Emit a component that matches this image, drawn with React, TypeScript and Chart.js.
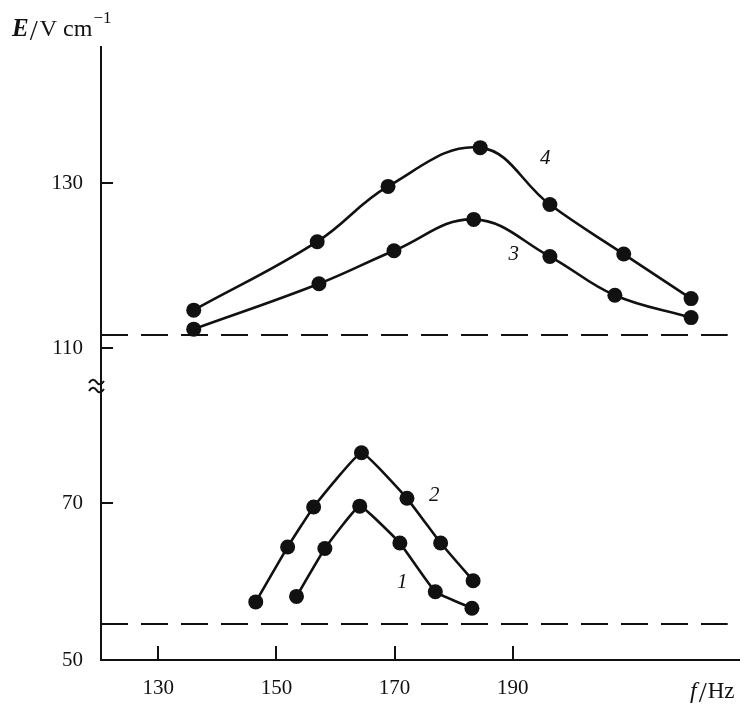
import React, { useEffect, useRef } from "react";
import { Chart, registerables } from "chart.js";

Chart.register(...registerables);

// ---- axis ranges / ticks ----
const X_MIN = 120.3;
const X_MAX = 228.4;
const X_TICKS = [130, 150, 170, 190];
const TOP_MIN = 105.4;
const TOP_MAX = 146.5;
const BOT_MIN = 50;
const BOT_MAX = 84.9;
const TOP_TICKS = [110, 130];
const BOT_TICKS = [50, 70];

// ---- series (f / Hz, E / V cm^-1) ----
const f4 = [136.0, 156.9, 168.9, 184.5, 196.3, 208.8, 220.2];
const e4 = [114.6, 122.9, 129.6, 134.3, 127.4, 121.4, 116.0];
const f3 = [136.0, 157.2, 169.9, 183.4, 196.3, 207.3, 220.2];
const e3 = [112.3, 117.8, 121.8, 125.6, 121.1, 116.4, 113.7];
const f2 = [146.5, 151.9, 156.3, 164.4, 172.1, 177.8, 183.3];
const e2 = [57.4, 64.4, 69.5, 76.4, 70.6, 64.9, 60.1];
const f1 = [153.4, 158.2, 164.1, 170.9, 176.9, 183.1];
const e1 = [58.1, 64.2, 69.6, 64.9, 58.7, 56.6];

// dashed reference levels
const TOP_BASE = 111.6;
const BOT_BASE = 54.6;
const BASE_END = 226.4;

// curve labels: [text, f, E, axis]
const CURVE_LABELS: [string, number, number, string][] = [
  ["4", 195.5, 133.0, "yTop"],
  ["3", 190.2, 121.4, "yTop"],
  ["2", 176.7, 70.9, "yBot"],
  ["1", 171.3, 59.9, "yBot"],
];

const SERIF = "'Liberation Serif', 'Times New Roman', serif";
const INK = "#111";

const zip = (xs: number[], ys: number[]) => xs.map((x, i) => ({ x, y: ys[i] }));

const overlayPlugin = {
  id: "overlay",
  afterDraw(chart: any) {
    const ctx = chart.ctx;
    const xs = chart.scales.x;
    const yt = chart.scales.yTop;
    const yb = chart.scales.yBot;
    const left = chart.chartArea.left;
    const bottom = chart.chartArea.bottom;
    ctx.save();
    ctx.strokeStyle = INK;
    ctx.lineWidth = 2;
    // inward tick marks
    ctx.beginPath();
    for (const v of TOP_TICKS) {
      const p = Math.round(yt.getPixelForValue(v));
      ctx.moveTo(left, p);
      ctx.lineTo(left + 12, p);
    }
    for (const v of BOT_TICKS) {
      const p = Math.round(yb.getPixelForValue(v));
      ctx.moveTo(left, p);
      ctx.lineTo(left + 12, p);
    }
    for (const v of X_TICKS) {
      const p = Math.round(xs.getPixelForValue(v));
      ctx.moveTo(p, bottom);
      ctx.lineTo(p, bottom - 14);
    }
    ctx.stroke();

    // axis break symbol
    const by = yt.bottom;
    ctx.lineWidth = 2;
    for (const dy of [-4, 4]) {
      const y = by + dy;
      ctx.beginPath();
      ctx.moveTo(89, y + 1);
      ctx.quadraticCurveTo(93, y - 5, 96.5, y);
      ctx.quadraticCurveTo(100, y + 5, 104, y - 1);
      ctx.stroke();
    }

    ctx.fillStyle = INK;
    // curve labels
    ctx.font = `italic 21px ${SERIF}`;
    ctx.textAlign = "center";
    ctx.textBaseline = "middle";
    for (const [t, fx, ey, ax] of CURVE_LABELS) {
      const sc = chart.scales[ax];
      ctx.fillText(t, xs.getPixelForValue(fx), sc.getPixelForValue(ey));
    }

    // y title: E/V cm^-1
    ctx.textBaseline = "alphabetic";
    ctx.textAlign = "left";
    let x = 12;
    const base = 36;
    ctx.font = `italic bold 25px ${SERIF}`;
    ctx.fillText("E", x, base);
    x += ctx.measureText("E").width + 1;
    ctx.font = `29px ${SERIF}`;
    ctx.fillText("/", x, base + 4);
    x += ctx.measureText("/").width + 2;
    ctx.font = `24px ${SERIF}`;
    ctx.fillText("V cm", x, base);
    x += ctx.measureText("V cm").width + 1;
    ctx.font = `17px ${SERIF}`;
    ctx.fillText("\u22121", x, base - 13);

    // x title: f/Hz
    let xx = 690;
    const xb = 698;
    ctx.font = `italic 24px ${SERIF}`;
    ctx.fillText("f", xx, xb);
    xx += ctx.measureText("f").width + 2;
    ctx.font = `29px ${SERIF}`;
    ctx.fillText("/", xx, xb + 4);
    xx += ctx.measureText("/").width + 1;
    ctx.font = `23px ${SERIF}`;
    ctx.fillText("Hz", xx, xb);
    ctx.restore();
  },
};

const curveDs = (data: { x: number; y: number }[], axis: string, tension: number) => ({
  data,
  yAxisID: axis,
  borderColor: INK,
  backgroundColor: INK,
  borderWidth: 2.6,
  pointRadius: 7.5,
  pointBorderWidth: 0,
  pointBackgroundColor: INK,
  tension,
  showLine: true,
  fill: false,
});

const dashDs = (level: number, axis: string) => ({
  data: [
    { x: X_MIN, y: level },
    { x: BASE_END, y: level },
  ],
  yAxisID: axis,
  borderColor: INK,
  borderWidth: 2,
  borderDash: [27, 13],
  pointRadius: 0,
  showLine: true,
  fill: false,
});

export default function App() {
  const ref = useRef<HTMLCanvasElement | null>(null);
  useEffect(() => {
    document.body.style.margin = "0";
    const canvas = ref.current!;
    const yCommon = (min: number, max: number, ticks: number[], weight: number) => ({
      type: "linear",
      position: "left",
      stack: "e",
      stackWeight: weight,
      min,
      max,
      grid: { drawOnChartArea: false, drawTicks: false },
      border: { display: true, color: INK, width: 2 },
      ticks: {
        padding: 18,
        color: INK,
        font: { family: SERIF, size: 21 },
      },
      afterBuildTicks: (s: any) => {
        s.ticks = ticks.map((v) => ({ value: v }));
      },
      afterFit: (s: any) => {
        s.width = 101;
      },
    });
    const chart = new Chart(canvas, {
      type: "scatter",
      data: {
        datasets: [
          curveDs(zip(f4, e4), "yTop", 0.4),
          curveDs(zip(f3, e3), "yTop", 0.4),
          curveDs(zip(f2, e2), "yBot", 0.1),
          curveDs(zip(f1, e1), "yBot", 0.1),
          dashDs(TOP_BASE, "yTop"),
          dashDs(BOT_BASE, "yBot"),
        ] as any,
      },
      options: {
        animation: false,
        responsive: false,
        devicePixelRatio: 1,
        layout: { padding: { top: 47, right: 4, left: 0, bottom: 0 } },
        plugins: { legend: { display: false }, tooltip: { enabled: false } },
        scales: {
          x: {
            type: "linear",
            position: "bottom",
            min: X_MIN,
            max: X_MAX,
            grid: { drawOnChartArea: false, drawTicks: false },
            border: { display: true, color: INK, width: 2 },
            ticks: {
              padding: 16,
              color: INK,
              font: { family: SERIF, size: 21 },
            },
            afterBuildTicks: (s: any) => {
              s.ticks = X_TICKS.map((v) => ({ value: v }));
            },
            afterFit: (s: any) => {
              s.height = 45;
            },
          },
          yBot: yCommon(BOT_MIN, BOT_MAX, BOT_TICKS, ((BOT_MAX - BOT_MIN) * 7.85) / 8.25) as any,
          yTop: yCommon(TOP_MIN, TOP_MAX, TOP_TICKS, TOP_MAX - TOP_MIN) as any,
        },
      } as any,
      plugins: [overlayPlugin],
    });
    return () => chart.destroy();
  }, []);
  return (
    <div style={{ position: "absolute", left: 0, top: 0, width: 747, height: 705, background: "#fff" }}>
      <canvas ref={ref} width={747} height={705} />
    </div>
  );
}
